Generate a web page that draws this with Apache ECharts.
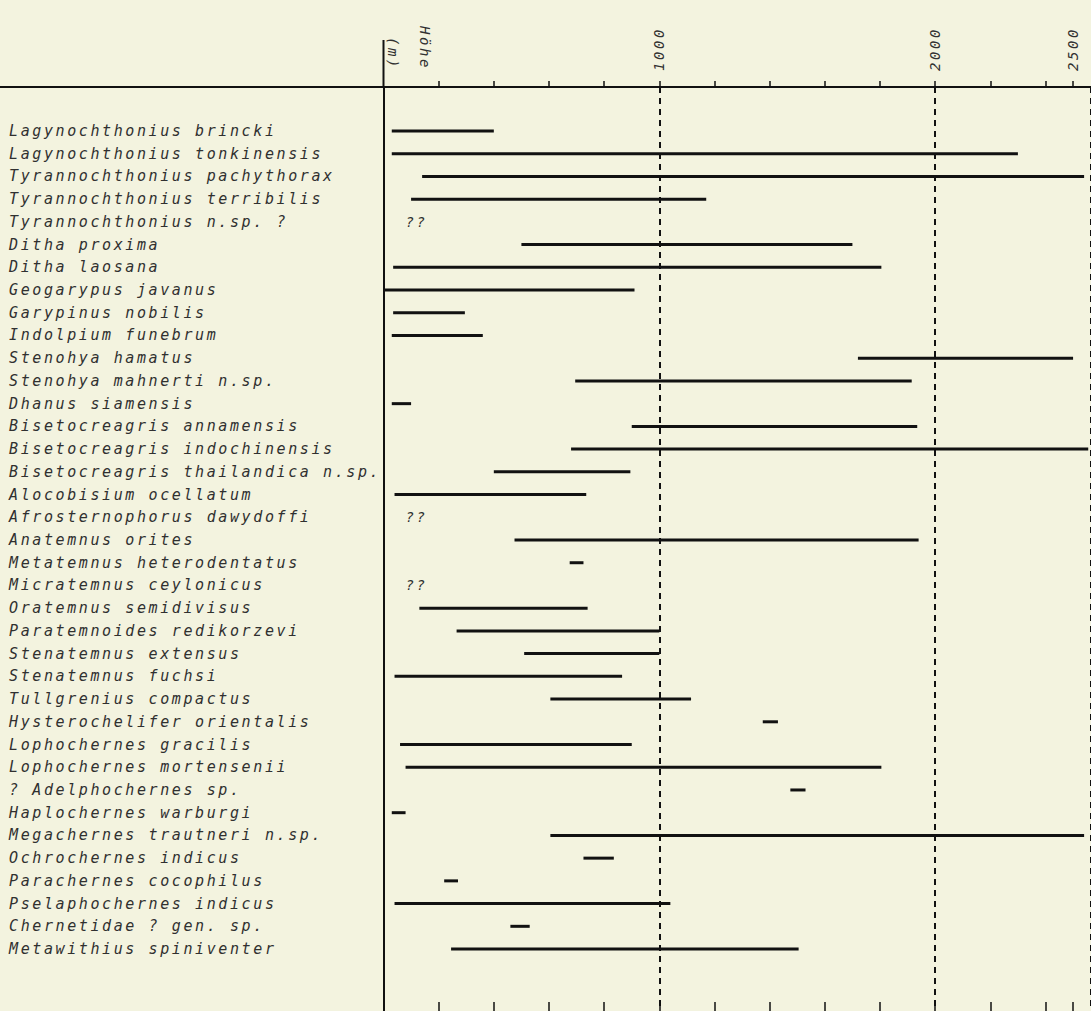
<!DOCTYPE html>
<html>
<head>
<meta charset="utf-8">
<script src="https://cdn.jsdelivr.net/npm/echarts@6.0.0/dist/echarts.min.js"></script>
<style>
  html, body { margin: 0; padding: 0; background: #f3f3df; }
  #chart { width: 1091px; height: 1011px; }
  #chart text { letter-spacing: 2.6px; }
</style>
</head>
<body>
<div id="chart"></div>
<script>
const species = [
  'Lagynochthonius brincki',
  'Lagynochthonius tonkinensis',
  'Tyrannochthonius pachythorax',
  'Tyrannochthonius terribilis',
  'Tyrannochthonius n.sp. ?',
  'Ditha proxima',
  'Ditha laosana',
  'Geogarypus javanus',
  'Garypinus nobilis',
  'Indolpium funebrum',
  'Stenohya hamatus',
  'Stenohya mahnerti n.sp.',
  'Dhanus siamensis',
  'Bisetocreagris annamensis',
  'Bisetocreagris indochinensis',
  'Bisetocreagris thailandica n.sp.',
  'Alocobisium ocellatum',
  'Afrosternophorus dawydoffi',
  'Anatemnus orites',
  'Metatemnus heterodentatus',
  'Micratemnus ceylonicus',
  'Oratemnus semidivisus',
  'Paratemnoides redikorzevi',
  'Stenatemnus extensus',
  'Stenatemnus fuchsi',
  'Tullgrenius compactus',
  'Hysterochelifer orientalis',
  'Lophochernes gracilis',
  'Lophochernes mortensenii',
  '? Adelphochernes sp.',
  'Haplochernes warburgi',
  'Megachernes trautneri n.sp.',
  'Ochrochernes indicus',
  'Parachernes cocophilus',
  'Pselaphochernes indicus',
  'Chernetidae ? gen. sp.',
  'Metawithius spiniventer'
];
// altitude range in m (null = unknown, shown as "??")
const altLow = [
  30, 30, 140, 100, null, 500, 35, 0, 35, 30,
  1720, 695, 30, 900, 680, 400, 40, null, 475, 675,
  null, 130, 265, 510, 40, 605, 1375, 60, 80, 1475,
  30, 605, 725, 220, 40, 460, 245
];
const altHigh = [
  400, 2300, 2540, 1170, null, 1700, 1805, 910, 295, 360,
  2500, 1915, 100, 1935, 2555, 895, 735, null, 1940, 725,
  null, 740, 1000, 1000, 865, 1115, 1430, 900, 1805, 1530,
  80, 2540, 835, 270, 1040, 530, 1505
];
const tickValues = [200, 400, 600, 800, 1000, 1200, 1400, 1600, 1800, 2000, 2200, 2400, 2500];
const labelValues = [1000, 2000, 2500];
const axisTitle = 'Höhe\n(m)';
const unknownMark = '??';

const FONT = 'DejaVu Sans Mono';
const TXT = '#303030';
const INK = '#111111';
const X_MAX = 2565;

const rangeData = [];
const unknownData = [];
species.forEach((n, i) => {
  if (altLow[i] == null) unknownData.push([i]);
  else rangeData.push([i, altLow[i], altHigh[i]]);
});

const chart = echarts.init(document.getElementById('chart'), null, { renderer: 'svg' });
chart.setOption({
  backgroundColor: '#f3f3df',
  animation: false,
  grid: [
    { left: 383.5, right: 0, top: 87, bottom: 0 },
    { left: 383.5, right: 0, top: 119.6, bottom: 50.6 }
  ],
  xAxis: [
    {
      gridIndex: 0, type: 'value', position: 'top', min: 0, max: X_MAX,
      axisLine: { show: true, onZero: false, lineStyle: { color: INK, width: 2 } },
      axisTick: { show: true, customValues: tickValues, length: 6, lineStyle: { color: INK, width: 1.5 } },
      axisLabel: {
        show: true, customValues: labelValues, rotate: -90, margin: 16,
        formatter: v => String(v),
        fontFamily: FONT, fontStyle: 'italic', fontSize: 14, color: TXT
      },
      splitLine: { show: false }
    },
    {
      gridIndex: 0, type: 'value', position: 'bottom', min: 0, max: X_MAX,
      axisLine: { show: false, onZero: false },
      axisTick: { show: true, customValues: tickValues, inside: true, length: 9, lineStyle: { color: INK, width: 1.5 } },
      axisLabel: { show: false },
      splitLine: { show: false }
    },
    {
      gridIndex: 0, type: 'value', position: 'bottom', min: 0, max: X_MAX, interval: 1000,
      axisLine: { show: false, onZero: false },
      axisTick: { show: false },
      axisLabel: { show: false },
      splitLine: { show: true, lineStyle: { color: INK, width: 2, type: [6, 5] } }
    },
    {
      gridIndex: 1, type: 'value', min: 0, max: X_MAX, show: false
    }
  ],
  yAxis: [
    {
      gridIndex: 0, type: 'value', min: 0, max: 1,
      axisLine: { show: true, onZero: false, lineStyle: { color: INK, width: 2 } },
      axisTick: { show: false }, axisLabel: { show: false }, splitLine: { show: false }
    },
    {
      gridIndex: 1, type: 'category', inverse: true, data: species,
      axisLine: { show: false }, axisTick: { show: false }, splitLine: { show: false },
      axisLabel: {
        interval: 0, align: 'left', margin: 374.5,
        fontFamily: FONT, fontStyle: 'italic', fontSize: 15, color: TXT
      }
    }
  ],
  graphic: [
    { type: 'line', shape: { x1: 0, y1: 87, x2: 384, y2: 87 }, style: { stroke: INK, lineWidth: 2 } },
    { type: 'line', shape: { x1: 383.5, y1: 40, x2: 383.5, y2: 88 }, style: { stroke: INK, lineWidth: 2 } },
    {
      type: 'text', x: 409, y: 70, rotation: -Math.PI / 2,
      style: {
        text: axisTitle, align: 'right', verticalAlign: 'middle', lineHeight: 32,
        font: 'italic 14px "' + FONT + '"', fill: TXT
      }
    }
  ],
  series: [
    {
      type: 'custom', xAxisIndex: 3, yAxisIndex: 1,
      encode: { x: [1, 2], y: 0 },
      data: rangeData,
      renderItem(params, api) {
        const idx = api.value(0);
        const a = api.coord([api.value(1), idx]);
        const b = api.coord([api.value(2), idx]);
        return {
          type: 'line',
          shape: { x1: a[0], y1: a[1], x2: b[0], y2: b[1] },
          style: { stroke: INK, lineWidth: 3, lineCap: 'butt' }
        };
      }
    },
    {
      type: 'custom', xAxisIndex: 3, yAxisIndex: 1,
      encode: { y: 0 },
      data: unknownData,
      renderItem(params, api) {
        const p = api.coord([0, api.value(0)]);
        return {
          type: 'text', x: p[0] + 22, y: p[1],
          style: {
            text: unknownMark, align: 'left', verticalAlign: 'middle',
            font: 'italic 14px "' + FONT + '"', fill: TXT
          }
        };
      }
    }
  ]
});
</script>
</body>
</html>
